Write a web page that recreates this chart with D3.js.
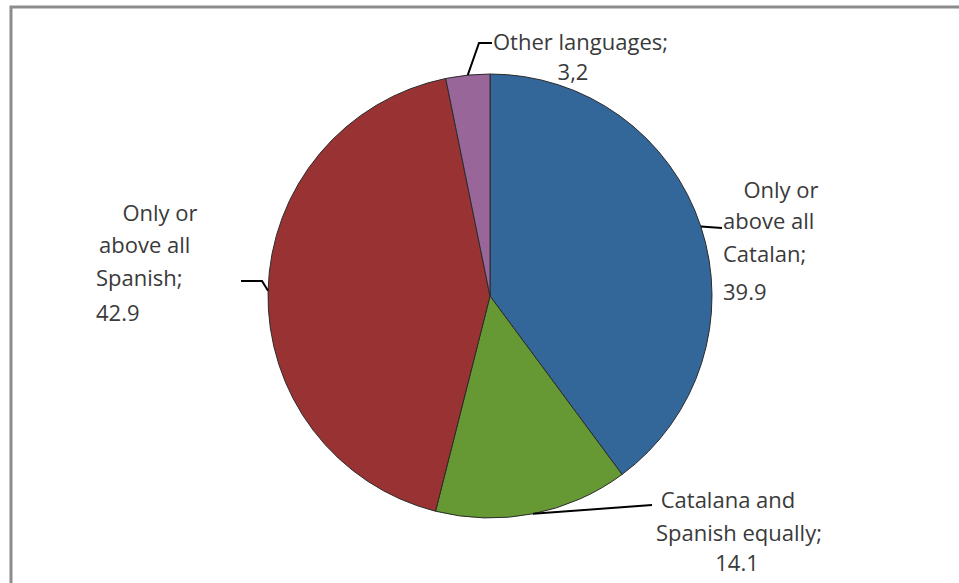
<!DOCTYPE html>
<html>
<head>
<meta charset="utf-8">
<script src="https://cdn.jsdelivr.net/npm/d3@7"></script>
<style>
  body { margin: 0; background: #fff; }
  svg { display: block; }
  .lbl { font-family: "Open Sans", Lato, sans-serif; font-size: 22px; fill: #3a3a3a; }
</style>
</head>
<body>
<div id="chart"></div>
<script>
// data
var categories = ["Only or above all Catalan", "Catalana and Spanish equally", "Only or above all Spanish", "Other languages"];
var values = [39.9, 14.1, 42.9, 3.2];
var valueText = ["39.9", "14.1", "42.9", "3,2"];
var colors = ["#336699", "#669933", "#993333", "#996699"];

var width = 959, height = 583;
var cx = 490, cy = 296, radius = 222;

var svg = d3.select("#chart").append("svg")
    .attr("width", width)
    .attr("height", height);

// chart frame (runs off the right and bottom edges)
svg.append("rect")
    .attr("x", 11).attr("y", 7)
    .attr("width", 980).attr("height", 620)
    .attr("fill", "none")
    .attr("stroke", "#8c8c8c")
    .attr("stroke-width", 3);

var pie = d3.pie().sort(null).value(function(d){ return d; });
var arcs = pie(values);
var arc = d3.arc().innerRadius(0).outerRadius(radius);

var g = svg.append("g").attr("transform", "translate(" + cx + "," + cy + ")");

g.selectAll(".slice")
    .data(arcs)
    .enter().append("path")
    .attr("class", "slice")
    .attr("d", arc)
    .attr("fill", function(d, i){ return colors[i]; })
    .attr("stroke", "#2b2b2b")
    .attr("stroke-width", 1);

// point on the rim at the middle of a slice
function rim(d) {
  var a = (d.startAngle + d.endAngle) / 2;
  return [cx + radius * Math.sin(a), cy - radius * Math.cos(a)];
}

// leader line bends and label lines (layout)
var leaders = [
  [[722, 228]],
  [[652, 505]],
  [[262, 281], [241, 281]],
  [[479, 43], [492, 43]]
];

var labelLines = [
  [{t: "Only or", x: 781, y: 198, a: "middle"}, {t: "above all", x: 723, y: 229, a: "start"},
   {t: "Catalan;", x: 723, y: 262, a: "start"}, {t: valueText[0], x: 723, y: 300, a: "start"}],
  [{t: "Catalana and", x: 728, y: 508, a: "middle"}, {t: "Spanish equally;", x: 739, y: 541, a: "middle"},
   {t: valueText[1], x: 737, y: 571, a: "middle"}],
  [{t: "Only or", x: 160, y: 221, a: "middle"}, {t: "above all", x: 99, y: 253, a: "start"},
   {t: "Spanish;", x: 96, y: 286, a: "start"}, {t: valueText[2], x: 96, y: 321, a: "start"}],
  [{t: "Other languages;", x: 493, y: 50, a: "start"}, {t: valueText[3], x: 573, y: 80, a: "middle"}]
];

var line = d3.line();
arcs.forEach(function(d, i) {
  svg.append("path")
    .attr("d", line([rim(d)].concat(leaders[i])))
    .attr("fill", "none")
    .attr("stroke", "#000")
    .attr("stroke-width", 2);

  labelLines[i].forEach(function(l) {
    svg.append("text")
      .attr("class", "lbl")
      .attr("x", l.x).attr("y", l.y)
      .attr("text-anchor", l.a)
      .text(l.t);
  });
});
</script>
</body>
</html>
